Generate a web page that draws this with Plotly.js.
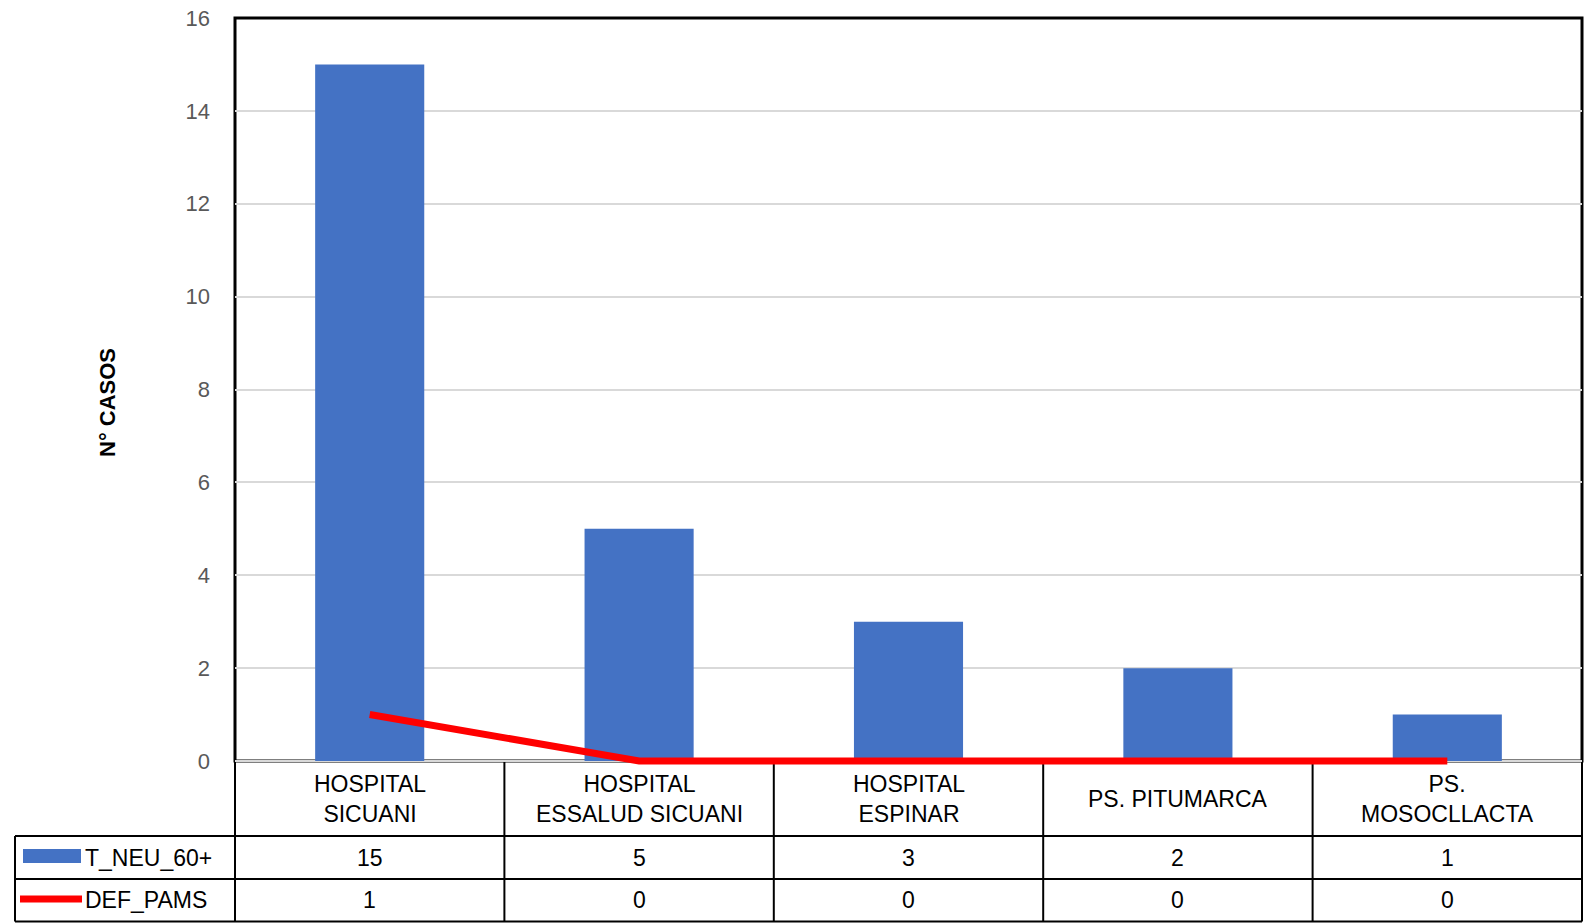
<!DOCTYPE html>
<html>
<head>
<meta charset="utf-8">
<script src="https://cdn.plot.ly/plotly-3.0.1.min.js"></script>
<style>
  html, body { margin: 0; padding: 0; background: #ffffff; }
  #chart { width: 1585px; height: 923px; }
</style>
</head>
<body>
<div id="chart"></div>
<script>
// ---- data ----
const categories = ["HOSPITAL SICUANI", "HOSPITAL ESSALUD SICUANI", "HOSPITAL ESPINAR", "PS. PITUMARCA", "PS. MOSOCLLACTA"];
const categoryLabels = ["HOSPITAL<br>SICUANI", "HOSPITAL<br>ESSALUD SICUANI", "HOSPITAL<br>ESPINAR", "PS. PITUMARCA", "PS.<br>MOSOCLLACTA"];
const seriesNames = ["T_NEU_60+", "DEF_PAMS"];
const tNeu60 = [15, 5, 3, 2, 1];
const defPams = [1, 0, 0, 0, 0];
const yTickValues = [0, 2, 4, 6, 8, 10, 12, 14, 16];
const yTitle = "N° CASOS";

// ---- geometry (pixels) ----
const W = 1585, H = 923;
const PL = 235, PR = 1582, PT = 18, ZERO = 761, PB = 766;
const unit = (ZERO - PT) / 16;
const yMin = -(PB - ZERO) / unit;
const px = p => (p - PL) / (PR - PL);
const py = p => (PB - p) / (PB - PT);
const R0 = ZERO, R1 = 836, R2 = 879, R3 = 921.5;
const TABLE_LEFT = 15;

const FONT = "Liberation Sans, Arial, sans-serif";
const BLUE = "#4472c4";
const RED = "#ff0000";

const traces = [
  {
    type: "bar",
    x: categories,
    y: tNeu60,
    name: seriesNames[0],
    marker: { color: BLUE },
    showlegend: false,
    hoverinfo: "x+y"
  },
  {
    type: "scatter",
    mode: "lines",
    x: categories,
    y: defPams,
    name: seriesNames[1],
    line: { color: RED, width: 7 },
    showlegend: false
  }
];

const shapes = [];
const lineShape = (x0, y0, x1, y1, w) => ({
  type: "line", xref: "paper", yref: "paper",
  x0: px(x0), y0: py(y0), x1: px(x1), y1: py(y1),
  line: { color: "#000000", width: w }, layer: "below"
});
// plot border
shapes.push({
  type: "rect", xref: "paper", yref: "paper",
  x0: 0, x1: 1, y0: py(ZERO), y1: 1,
  line: { color: "#000000", width: 3 }, layer: "below"
});
// table horizontal lines
shapes.push(lineShape(TABLE_LEFT, R1, PR, R1, 2));
shapes.push(lineShape(TABLE_LEFT, R2, PR, R2, 2));
shapes.push(lineShape(TABLE_LEFT, R3, PR, R3, 2));
// table vertical lines
shapes.push(lineShape(TABLE_LEFT, R1, TABLE_LEFT, R3, 2));
for (let k = 0; k <= categories.length; k++) {
  const xp = PL + (PR - PL) * k / categories.length;
  shapes.push(lineShape(xp, R0, xp, R3, 2));
}
// legend samples
shapes.push({
  type: "rect", xref: "paper", yref: "paper",
  x0: px(23), x1: px(81), y0: py(863), y1: py(849),
  fillcolor: BLUE, line: { width: 0 }
});
shapes.push({
  type: "line", xref: "paper", yref: "paper",
  x0: px(20), x1: px(82), y0: py(899), y1: py(899),
  line: { color: RED, width: 7 }
});

const annotations = [];
const cellFont = { family: FONT, size: 23, color: "#000000" };
categories.forEach((c, i) => {
  const xc = (i + 0.5) / categories.length;
  annotations.push({
    xref: "paper", yref: "paper", x: xc, y: py((R0 + R1) / 2),
    text: categoryLabels[i], showarrow: false, align: "center",
    xanchor: "center", yanchor: "middle", font: cellFont
  });
  annotations.push({
    xref: "paper", yref: "paper", x: xc, y: py((R1 + R2) / 2),
    text: String(tNeu60[i]), showarrow: false,
    xanchor: "center", yanchor: "middle", font: cellFont
  });
  annotations.push({
    xref: "paper", yref: "paper", x: xc, y: py((R2 + R3) / 2),
    text: String(defPams[i]), showarrow: false,
    xanchor: "center", yanchor: "middle", font: cellFont
  });
});
annotations.push({
  xref: "paper", yref: "paper", x: px(83), y: py((R1 + R2) / 2),
  text: seriesNames[0], showarrow: false, xanchor: "left", yanchor: "middle", font: cellFont
});
annotations.push({
  xref: "paper", yref: "paper", x: px(83), y: py((R2 + R3) / 2),
  text: seriesNames[1], showarrow: false, xanchor: "left", yanchor: "middle", font: cellFont
});
annotations.push({
  xref: "paper", yref: "paper", x: px(108), y: py(403),
  text: "<b>" + yTitle + "</b>", showarrow: false, textangle: -90,
  xanchor: "center", yanchor: "middle",
  font: { family: FONT, size: 22, color: "#000000" }
});

const layout = {
  width: W, height: H,
  margin: { l: PL, r: W - PR, t: PT, b: H - PB, pad: 0 },
  paper_bgcolor: "#ffffff",
  plot_bgcolor: "#ffffff",
  bargap: 0.595,
  showlegend: false,
  xaxis: {
    type: "category",
    range: [-0.5, categories.length - 0.5],
    showticklabels: false,
    showgrid: false, zeroline: false, showline: false, ticks: ""
  },
  yaxis: {
    range: [yMin, 16],
    tickmode: "array",
    tickvals: yTickValues,
    ticktext: yTickValues.map(String),
    showgrid: true, gridcolor: "#d9d9d9", gridwidth: 2,
    zeroline: false, showline: false, ticks: "",
    ticklabelstandoff: 24,
    tickfont: { family: FONT, size: 22, color: "#595959" }
  },
  shapes: shapes,
  annotations: annotations,
  font: { family: FONT }
};

Plotly.newPlot("chart", traces, layout, { displayModeBar: false, staticPlot: true });
</script>
</body>
</html>
